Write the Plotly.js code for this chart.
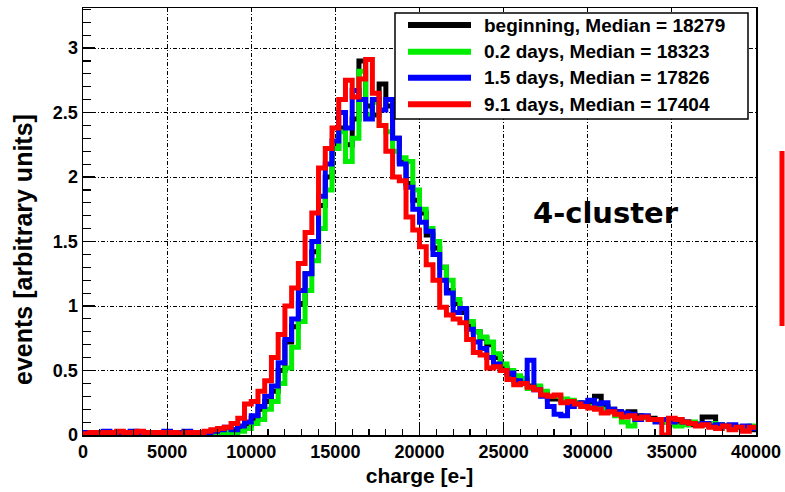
<!DOCTYPE html>
<html>
<head>
<meta charset="utf-8">
<script src="https://cdn.plot.ly/plotly-3.0.1.min.js"></script>
<style>html,body{margin:0;padding:0;background:#fff;}#chart{width:785px;height:492px;}</style>
</head>
<body>
<div id="chart"></div>
<script>
// Histogram bin width (e-) and data (arbitrary units), bins start at 0
const binWidth = 400;
const seriesNames = ["beginning, Median = 18279", "0.2 days, Median = 18323", "1.5 days, Median = 17826", "9.1 days, Median = 17404"];
const seriesColors = ["#000000", "#00ee00", "#0000ff", "#ff0000"];

const beginning = [0.01,0.01,0.02,0.01,0.01,0.02,0.01,0.02,0.01,0.01,0.01,0.02,0.01,0.01,0.01,0.01,0.01,0.01,0.02,0.02,
0.02,0.03,0.04,0.06,0.08,0.13,0.2,0.26,0.34,0.5,0.72,0.84,1.02,1.25,1.42,1.78,2.0,2.22,2.38,2.25,
2.45,2.9,2.55,2.48,2.72,2.55,2.3,2.12,1.95,1.82,1.72,1.55,1.45,1.3,1.12,1.02,0.95,0.85,0.8,0.75,
0.7,0.6,0.52,0.47,0.45,0.42,0.38,0.37,0.32,0.28,0.28,0.27,0.26,0.25,0.22,0.24,0.3,0.22,0.2,0.18,
0.16,0.18,0.15,0.14,0.13,0.12,0.1,0.1,0.09,0.1,0.08,0.08,0.14,0.14,0.08,0.07,0.06,0.06,0.05,0.04];

const days02 = [0.01,0.01,0.01,0.02,0.01,0.01,0.01,0.01,0.02,0.01,0.01,0.01,0.01,0.01,0.01,0.01,0.01,0.01,0.01,0.01,
0.01,0.02,0.02,0.03,0.05,0.09,0.12,0.2,0.26,0.4,0.52,0.68,0.88,1.12,1.35,1.6,1.9,2.22,2.35,2.12,
2.3,2.82,2.48,2.58,2.4,2.35,2.2,2.15,2.12,1.9,1.75,1.6,1.5,1.3,1.2,1.05,0.98,0.88,0.8,0.76,
0.72,0.63,0.55,0.5,0.46,0.44,0.36,0.38,0.34,0.3,0.3,0.28,0.27,0.25,0.23,0.22,0.21,0.2,0.18,0.15,
0.1,0.07,0.12,0.14,0.12,0.11,0.1,0.08,0.07,0.08,0.1,0.09,0.08,0.09,0.08,0.07,0.07,0.06,0.06,0.07];

const days15 = [0.02,0.02,0.02,0.03,0.02,0.02,0.02,0.03,0.02,0.02,0.02,0.02,0.03,0.02,0.02,0.03,0.02,0.02,0.02,0.03,
0.04,0.06,0.04,0.07,0.1,0.15,0.22,0.3,0.38,0.56,0.74,0.9,1.12,1.25,1.5,1.85,2.1,2.28,2.5,2.38,
2.67,2.6,2.45,2.6,2.52,2.6,2.3,2.1,1.92,1.75,1.65,1.58,1.4,1.2,1.1,0.95,0.98,0.82,0.72,0.67,
0.6,0.55,0.5,0.48,0.42,0.4,0.58,0.35,0.3,0.22,0.16,0.15,0.22,0.24,0.25,0.27,0.24,0.25,0.2,0.18,
0.17,0.16,0.12,0.15,0.12,0.1,0.12,0.1,0.12,0.1,0.09,0.08,0.09,0.07,0.08,0.07,0.08,0.06,0.07,0.05];

const days91 = [0.01,0.02,0.01,0.02,0.02,0.03,0.02,0.02,0.03,0.02,0.02,0.02,0.02,0.02,0.01,0.02,0.02,0.02,0.03,0.04,
0.05,0.06,0.09,0.13,0.24,0.26,0.34,0.42,0.6,0.78,1.0,1.14,1.33,1.57,1.72,2.07,2.22,2.38,2.6,2.75,
2.62,2.76,2.91,2.65,2.4,2.2,2.0,1.97,1.69,1.59,1.46,1.32,1.2,0.99,0.93,0.9,0.87,0.74,0.64,0.62,
0.52,0.53,0.5,0.43,0.39,0.4,0.37,0.35,0.31,0.3,0.31,0.25,0.26,0.24,0.22,0.21,0.2,0.17,0.18,0.16,
0.14,0.15,0.13,0.14,0.12,0.12,0.0,0.13,0.12,0.1,0.09,0.07,0.08,0.06,0.05,0.07,0.04,0.06,0.03,0.06];

const xTicks = [0,5000,10000,15000,20000,25000,30000,35000,40000];
const yTicks = [0,0.5,1,1.5,2,2.5,3];

const allSeries = [beginning, days02, days15, days91];

// plot frame in pixels (for layout helpers)
const W = 785, H = 492, L = 83, R = 756, T = 8, B = 435;
const px = x => (x - L) / (R - L);
const py = y => (B - y) / (B - T);

const traces = allSeries.map((vals, k) => {
  const xs = vals.map((_, i) => i * binWidth);
  xs.push(vals.length * binWidth);
  const ys = vals.slice();
  ys.push(vals[vals.length - 1]);
  return {
    type: 'scatter', mode: 'lines', x: xs, y: ys, name: seriesNames[k],
    line: {shape: 'hv', color: seriesColors[k], width: 5},
    showlegend: false, hoverinfo: 'skip'
  };
});

const font = 'Liberation Sans, Arial, Helvetica, sans-serif';
const shapes = [];
const annotations = [];

// legend box
shapes.push({type: 'rect', xref: 'paper', yref: 'paper', x0: px(395), x1: px(748), y0: py(119), y1: py(13),
  line: {color: '#000', width: 1.5}, fillcolor: '#fff', layer: 'above'});
const rowY = [25, 51.7, 77.7, 104.3];
seriesNames.forEach((n, k) => {
  shapes.push({type: 'line', xref: 'paper', yref: 'paper', x0: px(408), x1: px(471), y0: py(rowY[k]), y1: py(rowY[k]),
    line: {color: seriesColors[k], width: 6}, layer: 'above'});
  annotations.push({xref: 'paper', yref: 'paper', x: px(482), y: py(rowY[k]), xanchor: 'left', yanchor: 'middle',
    text: n, showarrow: false, font: {family: font, size: 19, color: '#000', weight: 'bold'}});
});

// 4-cluster label
annotations.push({xref: 'paper', yref: 'paper', x: px(606), y: py(213), xanchor: 'center', yanchor: 'middle',
  text: '4-cluster', showarrow: false, font: {family: 'DejaVu Sans, sans-serif', size: 29, color: '#000', weight: 'bold'}});

// y-axis title placed as rotated text
annotations.push({xref: 'paper', yref: 'paper', x: px(23), y: py(250), xanchor: 'center', yanchor: 'middle', textangle: -90,
  text: 'events [arbitrary units]', showarrow: false, font: {family: font, size: 25, color: '#000', weight: 'bold'}});

// red marker bar on the right
shapes.push({type: 'line', xref: 'paper', yref: 'paper', x0: px(782), x1: px(782), y0: py(326), y1: py(151),
  line: {color: '#ff0000', width: 5}});

const gridDash = '4px,2px,1px,2px';
const layout = {
  width: W, height: H,
  margin: {l: L, r: W - R, t: T, b: H - B, pad: 0},
  paper_bgcolor: '#fff', plot_bgcolor: '#fff',
  showlegend: false,
  xaxis: {
    range: [0, 40000], tickvals: xTicks, ticktext: xTicks.map(String),
    ticks: 'inside', ticklen: 10, tickwidth: 1.2, tickcolor: '#000',
    minor: {dtick: 1000, ticks: 'inside', ticklen: 6, tickwidth: 1.2, tickcolor: '#000', showgrid: false},
    showgrid: true, gridcolor: '#000', gridwidth: 1, griddash: gridDash,
    showline: true, linecolor: '#000', linewidth: 1.5, mirror: true, zeroline: false,
    tickfont: {family: font, size: 18, color: '#000', weight: 'bold'},
    title: {text: 'charge [e-]', font: {family: font, size: 21, color: '#000', weight: 'bold'}, standoff: 7},
    automargin: false
  },
  yaxis: {
    range: [0, (B - T) / 129], tickvals: yTicks, ticktext: yTicks.map(String),
    ticks: 'inside', ticklen: 12, tickwidth: 1.2, tickcolor: '#000',
    minor: {dtick: 0.1, ticks: 'inside', ticklen: 8, tickwidth: 1.2, tickcolor: '#000', showgrid: false},
    showgrid: true, gridcolor: '#000', gridwidth: 1, griddash: gridDash,
    showline: true, linecolor: '#000', linewidth: 1.5, mirror: true, zeroline: false,
    tickfont: {family: font, size: 18, color: '#000', weight: 'bold'},
    automargin: false
  },
  shapes: shapes,
  annotations: annotations
};

Plotly.newPlot('chart', traces, layout, {staticPlot: true, displayModeBar: false});
</script>
</body>
</html>
